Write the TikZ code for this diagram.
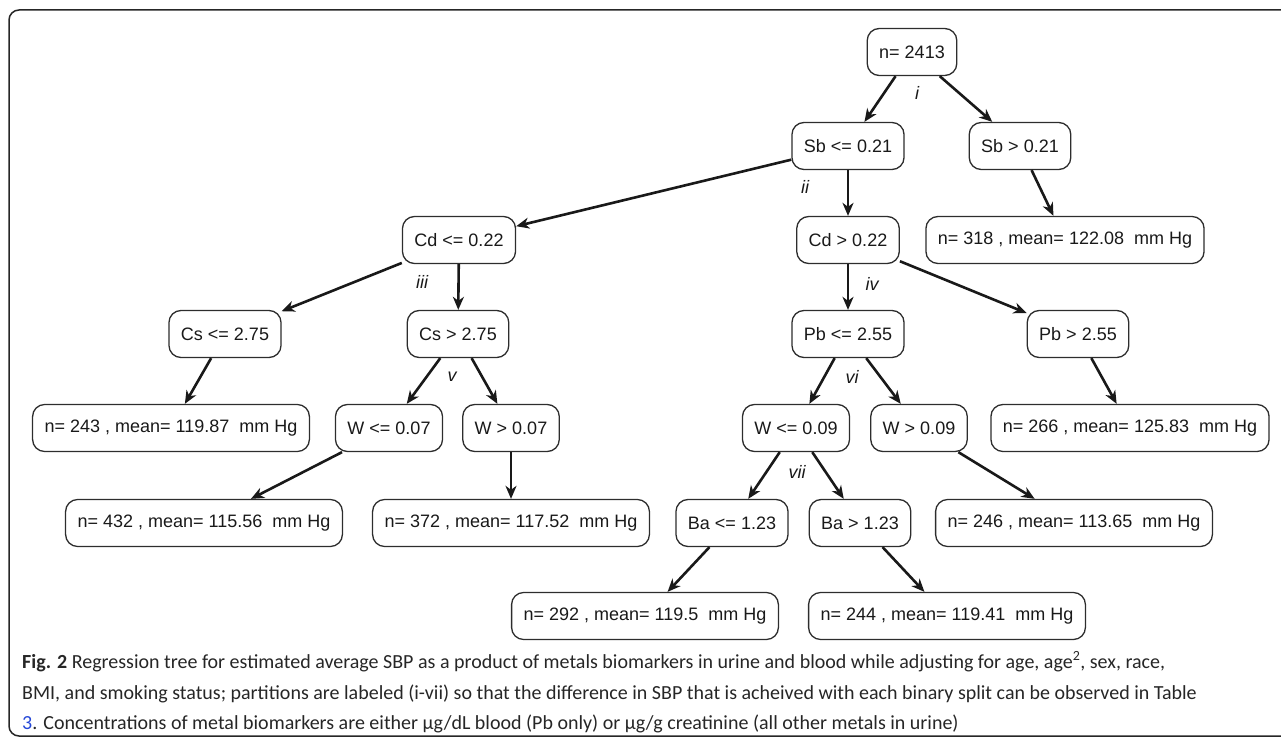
\documentclass[tikz,border=0pt]{standalone}
\usepackage{fontspec}
\setmainfont{Carlito}
\newfontfamily\treefont{Liberation Sans}
\usetikzlibrary{arrows.meta}
\definecolor{myblue}{RGB}{35, 70, 215}
\definecolor{mygray}{RGB}{45, 45, 45}
\tikzset{>={Stealth[length=13pt, width=11pt, inset=4pt]}}
\tikzset{
  box/.style={draw=mygray, line width=1.3pt, rounded corners=12pt, minimum height=47pt,
    inner xsep=12pt, text=black!90, font=\treefont\fontsize{18}{18}\selectfont},
  part/.style={text=black!90, font=\treefont\itshape\fontsize{18}{18}\selectfont},
  edge/.style={->, line width=2.6pt, black!90},
  capline/.style={anchor=base west, inner sep=0pt, text=black!85, font=\fontsize{20}{20}\selectfont}
}

\begin{document}
\begin{tikzpicture}[x=1pt, y=-1pt]
\useasboundingbox (0,0) rectangle (1281,738);
\clip (0,0) rectangle (1281,738);
\draw[line width=1.5pt, black!85, rounded corners=10pt] (9,10) rectangle (1330,736);

\node[box] (root) at (912,52) {n= 2413};
\node[box] (sbl) at (848,146) {Sb <= 0.21};
\node[box] (sbr) at (1020,146) {Sb > 0.21};
\node[box] (cdl) at (459,240) {Cd <= 0.22};
\node[box] (cdr) at (848,240) {Cd > 0.22};
\node[box] (n318) at (1065,240) {n= 318 , mean= 122.08\ \ mm Hg};
\node[box] (csl) at (225,334) {Cs <= 2.75};
\node[box] (csr) at (458,334) {Cs > 2.75};
\node[box] (pbl) at (848,334) {Pb <= 2.55};
\node[box] (pbr) at (1078,334) {Pb > 2.55};
\node[box] (n243) at (171,428) {n= 243 , mean= 119.87\ \ mm Hg};
\node[box] (wla) at (389,428) {W <= 0.07};
\node[box] (wra) at (511,428) {W > 0.07};
\node[box] (wlb) at (796,428) {W <= 0.09};
\node[box] (wrb) at (919,428) {W > 0.09};
\node[box] (n266) at (1130,428) {n= 266 , mean= 125.83\ \ mm Hg};
\node[box] (n432) at (204,523) {n= 432 , mean= 115.56\ \ mm Hg};
\node[box] (n372) at (511,523) {n= 372 , mean= 117.52\ \ mm Hg};
\node[box] (bal) at (732,523) {Ba <= 1.23};
\node[box] (bar) at (860,523) {Ba > 1.23};
\node[box] (n246) at (1074,523) {n= 246 , mean= 113.65\ \ mm Hg};
\node[box] (n292) at (645,616) {n= 292 , mean= 119.5\ \ mm Hg};
\node[box] (n244) at (947,616) {n= 244 , mean= 119.41\ \ mm Hg};

\draw[edge] (root) -- (sbl);
\draw[edge] (root) -- (sbr);
\draw[edge] (sbl) -- (cdl);
\draw[edge] (sbl) -- (cdr);
\draw[edge] (sbr) -- (n318);
\draw[edge] (cdl) -- (csl);
\draw[edge] (cdl) -- (csr);
\draw[edge] (cdr) -- (pbl);
\draw[edge] (cdr) -- (pbr);
\draw[edge] (csl) -- (n243);
\draw[edge] (csr) -- (wla);
\draw[edge] (csr) -- (wra);
\draw[edge] (pbl) -- (wlb);
\draw[edge] (pbl) -- (wrb);
\draw[edge] (pbr) -- (n266);
\draw[edge] (wla) -- (n432);
\draw[edge] (wra) -- (n372);
\draw[edge] (wlb) -- (bal);
\draw[edge] (wlb) -- (bar);
\draw[edge] (wrb) -- (n246);
\draw[edge] (bal) -- (n292);
\draw[edge] (bar) -- (n244);

\node[part] (pi) at (917,93) {i};
\node[part] (pii) at (805,187) {ii};
\node[part] (piii) at (422,282) {iii};
\node[part] (piv) at (872,284) {iv};
\node[part] (pv) at (452,377) {v};
\node[part] (pvi) at (852,377) {vi};
\node[part] (pvii) at (797,472) {vii};

\node[capline] (cap1) at (22,668) {\textbf{Fig. 2} Regression tree for estimated average SBP as a product of metals biomarkers in urine and blood while adjusting for age, age\textsuperscript{2}, sex, race,};
\node[capline] (cap2) at (22,699) {BMI, and smoking status; partitions are labeled (i-vii) so that the difference in SBP that is acheived with each binary split can be observed in Table};
\node[capline] (cap3) at (22,729) {\textcolor{myblue}{3}. Concentrations of metal biomarkers are either µg/dL blood (Pb only) or µg/g creatinine (all other metals in urine)};
\end{tikzpicture}
\end{document}
